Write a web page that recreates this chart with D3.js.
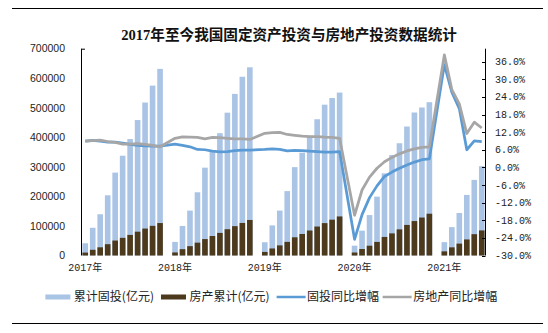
<!DOCTYPE html>
<html>
<head>
<meta charset="utf-8">
<script src="https://cdn.jsdelivr.net/npm/d3@7"></script>
<style>
  html, body { margin: 0; padding: 0; background: #fff; }
  svg { display: block; }
</style>
</head>
<body>
<svg id="chart" width="548" height="333"></svg>
<script>
// Monthly categories (January is folded into the Jan–Feb figure, so it stays empty)
const months = [
  "2017-02","2017-03","2017-04","2017-05","2017-06","2017-07","2017-08","2017-09","2017-10","2017-11","2017-12",
  "2018-01","2018-02","2018-03","2018-04","2018-05","2018-06","2018-07","2018-08","2018-09","2018-10","2018-11","2018-12",
  "2019-01","2019-02","2019-03","2019-04","2019-05","2019-06","2019-07","2019-08","2019-09","2019-10","2019-11","2019-12",
  "2020-01","2020-02","2020-03","2020-04","2020-05","2020-06","2020-07","2020-08","2020-09","2020-10","2020-11","2020-12",
  "2021-01","2021-02","2021-03","2021-04","2021-05","2021-06","2021-07"
];

// 累计固投 (亿元)
const faiCumulative = [
  41378, 93777, 139670, 203727, 280605, 337705, 394150, 458478, 517817, 575057, 631684,
  null, 46000, 100029, 152000, 214000, 297316, 355000, 414000, 483442, 547000, 605000, 637000,
  null, 44849, 101871, 152000, 218000, 299100, 348000, 405000, 461204, 510530, 533000, 551478,
  null, 33323, 84145, 136824, 199194, 278000, 340000, 380000, 436530, 484000, 501000, 518907,
  null, 45236, 95994, 143804, 205000, 255900, 302283
];

// 房产累计 (亿元)
const reCumulative = [
  9854, 19292, 27732, 38252, 50610, 59761, 69694, 80644, 91111, 100387, 109799,
  null, 10357, 21444, 31594, 43451, 55531, 65968, 76519, 88948, 99325, 110083, 120264,
  null, 12090, 23803, 34217, 46075, 61609, 72843, 84589, 98008, 109603, 121265, 132194,
  null, 10115, 21963, 33103, 45920, 62780, 74895, 88454, 103484, 116556, 128492, 141443,
  null, 13986, 27576, 40240, 54318, 72179, 84895
];

// 固投同比增幅 (%)
const faiGrowth = [
  8.9, 9.2, 8.9, 8.6, 8.6, 8.3, 7.8, 7.5, 7.3, 7.2, 7.2,
  null, 7.9, 7.5, 7.0, 6.1, 6.0, 5.5, 5.3, 5.4, 5.7, 5.9, 5.9,
  null, 6.1, 6.3, 6.1, 5.6, 5.8, 5.7, 5.5, 5.4, 5.2, 5.2, 5.4,
  null, -24.5, -16.1, -10.3, -6.3, -3.1, -1.6, -0.3, 0.8, 1.8, 2.6, 2.9,
  null, 35.0, 25.6, 20.0, 6.0, 9.0, 8.8
];

// 房地产同比增幅 (%)
const reGrowth = [
  8.9, 9.1, 9.3, 8.8, 8.5, 7.9, 7.9, 8.1, 7.8, 7.5, 7.0,
  null, 9.9, 10.4, 10.3, 10.2, 9.7, 10.2, 10.1, 9.9, 9.7, 9.7, 9.5,
  null, 11.6, 11.8, 11.9, 11.2, 10.9, 10.6, 10.5, 10.5, 10.3, 10.2, 9.9,
  null, -16.3, -7.7, -3.3, -0.3, 1.9, 3.4, 4.6, 5.6, 6.3, 6.8, 7.0,
  null, 38.3, 26.5, 21.6, 11.5, 15.4, 13.4
];

const yearLabels = ["2017年", "2018年", "2019年", "2020年", "2021年"];
const yearLabelMonths = ["2017-02", "2018-02", "2019-02", "2020-02", "2021-02"];
const leftTicks = [0, 100000, 200000, 300000, 400000, 500000, 600000, 700000];
const rightTicks = [-30, -24, -18, -12, -6, 0, 6, 12, 18, 24, 30, 36];
const legendNames = ["累计固投(亿元)", "房产累计(亿元)", "固投同比增幅", "房地产同比增幅"];

const title = "2017年至今我国固定资产投资与房地产投资数据统计";

const colors = {
  fai: "#AAC4E6",
  re: "#4D3A1C",
  faiLine: "#5B9BD5",
  reLine: "#A6A6A6"
};

const svg = d3.select("#chart");
const plot = { left: 81.5, right: 485.5, top: 48.7, bottom: 255.5 };

svg.append("rect").attr("width", 548).attr("height", 333).attr("fill", "#fff");

// Rules above and below the chart block
svg.append("line").attr("x1", 12).attr("x2", 543).attr("y1", 8.5).attr("y2", 8.5)
  .attr("stroke", "#000").attr("stroke-width", 1);
svg.append("line").attr("x1", 12).attr("x2", 543).attr("y1", 323.5).attr("y2", 323.5)
  .attr("stroke", "#000").attr("stroke-width", 1);

// Title
svg.append("text")
  .attr("x", 289).attr("y", 40)
  .attr("text-anchor", "middle")
  .attr("font-family", "'Liberation Serif', 'Noto Sans CJK SC', serif")
  .attr("font-weight", "bold")
  .attr("font-size", 14.6)
  .attr("fill", "#111")
  .text(title);

// Scales
const x = d3.scaleBand().domain(months)
  .range([plot.left, plot.right])
  .paddingInner(0.25).paddingOuter(0.125);
const yLeft = d3.scaleLinear().domain([0, 700000]).range([plot.bottom, plot.top]);
const yRight = d3.scaleLinear().domain([-30, 40.4]).range([plot.bottom, plot.top]);
const cx = m => x(m) + x.bandwidth() / 2;

// Bars: total fixed-asset investment behind, real estate in front
const rows = months.map((m, i) => ({
  m, fai: faiCumulative[i], re: reCumulative[i], fg: faiGrowth[i], rg: reGrowth[i]
}));

svg.append("g").selectAll("rect")
  .data(rows.filter(d => d.fai != null))
  .join("rect")
  .attr("x", d => x(d.m)).attr("width", x.bandwidth())
  .attr("y", d => yLeft(d.fai)).attr("height", d => yLeft(0) - yLeft(d.fai))
  .attr("fill", colors.fai);

svg.append("g").selectAll("rect")
  .data(rows.filter(d => d.re != null))
  .join("rect")
  .attr("x", d => x(d.m)).attr("width", x.bandwidth())
  .attr("y", d => yLeft(d.re)).attr("height", d => yLeft(0) - yLeft(d.re))
  .attr("fill", colors.re);

// Growth lines (gaps bridged across empty months)
const faiLine = d3.line().x(d => cx(d.m)).y(d => yRight(d.fg));
const reLine = d3.line().x(d => cx(d.m)).y(d => yRight(d.rg));

svg.append("path")
  .datum(rows.filter(d => d.fg != null))
  .attr("d", faiLine)
  .attr("fill", "none").attr("stroke", colors.faiLine)
  .attr("stroke-width", 2.75).attr("stroke-linejoin", "round");

svg.append("path")
  .datum(rows.filter(d => d.rg != null))
  .attr("d", reLine)
  .attr("fill", "none").attr("stroke", colors.reLine)
  .attr("stroke-width", 2.75).attr("stroke-linejoin", "round");

// Left axis
const leftAxis = svg.append("g");
leftAxis.append("line")
  .attr("x1", plot.left).attr("x2", plot.left)
  .attr("y1", plot.top).attr("y2", plot.bottom)
  .attr("stroke", "#000").attr("stroke-width", 1);
leftAxis.append("line")
  .attr("x1", plot.left).attr("x2", plot.left + 3.5)
  .attr("y1", yLeft(700000) + 0.5).attr("y2", yLeft(700000) + 0.5)
  .attr("stroke", "#000").attr("stroke-width", 1);
leftAxis.selectAll("text")
  .data(leftTicks)
  .join("text")
  .attr("x", 65).attr("y", d => yLeft(d))
  .attr("dy", "0.36em")
  .attr("text-anchor", "end")
  .attr("font-family", "'Liberation Sans', Arial, sans-serif")
  .attr("font-size", 10.5)
  .attr("fill", "#222")
  .text(d => d);

// Right axis
const rightAxis = svg.append("g");
rightAxis.append("line")
  .attr("x1", plot.right).attr("x2", plot.right)
  .attr("y1", plot.top).attr("y2", plot.bottom)
  .attr("stroke", "#000").attr("stroke-width", 1);
rightAxis.selectAll("line.tick")
  .data(rightTicks)
  .join("line")
  .attr("class", "tick")
  .attr("x1", plot.right - 3.5).attr("x2", plot.right)
  .attr("y1", d => Math.round(yRight(d)) + 0.5).attr("y2", d => Math.round(yRight(d)) + 0.5)
  .attr("stroke", "#000").attr("stroke-width", 1);
rightAxis.selectAll("text")
  .data(rightTicks)
  .join("text")
  .attr("x", 495).attr("y", d => yRight(d))
  .attr("dy", "0.36em")
  .attr("font-family", "'Liberation Mono', 'DejaVu Sans Mono', monospace")
  .attr("font-size", 10)
  .attr("fill", "#222")
  .text(d => (d < 0 ? "-" : "") + Math.abs(d).toFixed(1) + "%");

// Year labels under the categories
svg.append("g").selectAll("text")
  .data(yearLabels)
  .join("text")
  .attr("x", (d, i) => cx(yearLabelMonths[i]))
  .attr("y", 271)
  .attr("text-anchor", "middle")
  .attr("font-family", "'Liberation Mono', 'Noto Sans CJK SC', monospace")
  .attr("font-size", 10)
  .attr("fill", "#222")
  .text(d => d);

// Legend
const legendTypes = ["bar", "bar", "line", "line"];
const legendColors = [colors.fai, colors.re, colors.faiLine, colors.reLine];
const legend = svg.append("g");
let lx = 0;
legendNames.forEach((name, i) => {
  const g = legend.append("g");
  const sw = legendTypes[i] === "bar" ? 25 : 29;
  if (legendTypes[i] === "bar") {
    g.append("rect").attr("x", lx).attr("y", -2.5).attr("width", sw).attr("height", 5)
      .attr("fill", legendColors[i]);
  } else {
    g.append("line").attr("x1", lx).attr("x2", lx + sw).attr("y1", 0).attr("y2", 0)
      .attr("stroke", legendColors[i]).attr("stroke-width", 2.5);
  }
  const gap = legendTypes[i] === "bar" ? 3.5 : 1.5;
  const t = g.append("text")
    .attr("x", lx + sw + gap).attr("y", 0).attr("dy", "0.36em")
    .attr("font-family", "'Noto Sans CJK SC', sans-serif")
    .attr("font-size", 12)
    .attr("fill", "#222")
    .text(name);
  lx += sw + gap + t.node().getComputedTextLength() + (i === 2 ? 3.5 : 7);
});
const legendWidth = lx - 3.5;
legend.attr("transform", `translate(${273 - legendWidth / 2}, 297)`);
</script>
</body>
</html>
